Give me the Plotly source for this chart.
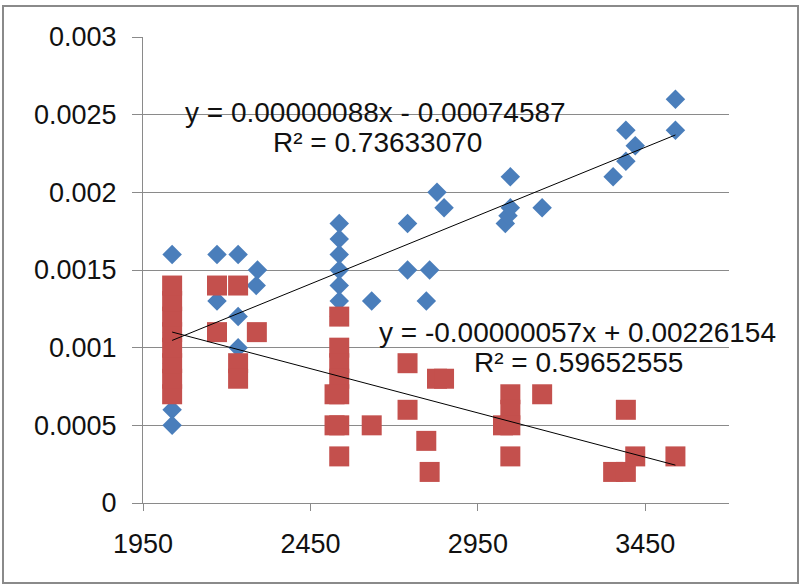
import plotly.graph_objects as go

# ---- data ----
blue_x = [2037, 2037, 2037, 2037, 2037,
          2171, 2171,
          2234, 2234, 2234,
          2292, 2288,
          2536, 2536, 2536, 2536, 2536, 2536, 2536,
          2633,
          2740, 2740,
          2796, 2806,
          2828, 2849,
          3032, 3040, 3047, 3047,
          3142,
          3354, 3392, 3392, 3420,
          3540, 3540]
blue_y = [0.0016, 0.0006, 0.0005, 0.0011, 0.0009,
          0.0016, 0.0013,
          0.0016, 0.0012, 0.0010,
          0.0015, 0.0014,
          0.0018, 0.0017, 0.0016, 0.0015, 0.0014, 0.0013, 0.0012,
          0.0013,
          0.0018, 0.0015,
          0.0013, 0.0015,
          0.0020, 0.0019,
          0.0018, 0.00185, 0.0021, 0.0019,
          0.0019,
          0.0021, 0.0022, 0.0024, 0.0023,
          0.0024, 0.0026]

red_x = [2037, 2037, 2037, 2037, 2037, 2037, 2037, 2037,
         2171, 2171,
         2234, 2234, 2234,
         2290,
         2536, 2536, 2536, 2536, 2536, 2536, 2536, 2522, 2522,
         2633,
         2740, 2740,
         2796, 2806,
         2828, 2849,
         3025, 3047, 3047, 3047, 3047,
         3142,
         3354, 3392, 3392,
         3420,
         3540]
red_y = [0.0007, 0.0008, 0.0009, 0.0010, 0.0011, 0.0012, 0.0013, 0.0014,
         0.0014, 0.0011,
         0.0014, 0.0009, 0.0008,
         0.0011,
         0.0012, 0.0010, 0.0009, 0.0008, 0.0007, 0.0005, 0.0003, 0.0007, 0.0005,
         0.0005,
         0.0009, 0.0006,
         0.0004, 0.0002,
         0.0008, 0.0008,
         0.0005, 0.0007, 0.0006, 0.0005, 0.0003,
         0.0007,
         0.0002, 0.0002, 0.0006,
         0.0003,
         0.0003]

# trendline coefficients as displayed on the chart
blue_slope, blue_intercept = 0.00000088, -0.00074587
red_slope, red_intercept = -0.00000057, 0.00226154
blue_label = ["y = 0.00000088x - 0.00074587", "R² = 0.73633070"]
red_label = ["y = -0.00000057x + 0.00226154", "R² = 0.59652555"]

x_ticks = [1950, 2450, 2950, 3450]
y_ticks = [0, 0.0005, 0.001, 0.0015, 0.002, 0.0025, 0.003]
y_ticktext = ["0", "0.0005", "0.001", "0.0015", "0.002", "0.0025", "0.003"]

FONT = "Liberation Sans, Arial, sans-serif"

fig = go.Figure()
fig.add_trace(go.Scatter(x=blue_x, y=blue_y, mode="markers",
                         marker=dict(symbol="diamond", size=15, color="#4A7EBB",
                                     line=dict(width=0)),
                         showlegend=False))
fig.add_trace(go.Scatter(x=red_x, y=red_y, mode="markers",
                         marker=dict(symbol="square", size=20, color="#C4504D",
                                     line=dict(width=0)),
                         showlegend=False))

bx = [min(blue_x), max(blue_x)]
fig.add_trace(go.Scatter(x=bx, y=[blue_slope * v + blue_intercept for v in bx],
                         mode="lines", line=dict(color="black", width=1),
                         showlegend=False))
rx = [min(red_x), max(red_x)]
fig.add_trace(go.Scatter(x=rx, y=[red_slope * v + red_intercept for v in rx],
                         mode="lines", line=dict(color="black", width=1),
                         showlegend=False))

ann_font = dict(family=FONT, size=28, color="#111111")
fig.add_annotation(x=2643, y=0.002514, text=blue_label[0], showarrow=False, font=ann_font)
fig.add_annotation(x=2649, y=0.00232, text=blue_label[1], showarrow=False, font=ann_font)
fig.add_annotation(x=3247, y=0.00110, text=red_label[0], showarrow=False, font=ann_font)
fig.add_annotation(x=3250, y=0.000907, text=red_label[1], showarrow=False, font=ann_font)

# outer chart border
fig.add_shape(type="rect", xref="paper", yref="paper",
              x0=(3 - 143) / 586, x1=(798 - 143) / 586,
              y0=(503 - 583) / 466, y1=(503 - 6) / 466,
              line=dict(color="#8a8a8a", width=2), fillcolor="rgba(0,0,0,0)", layer="below")

fig.update_layout(
    width=802, height=588,
    margin=dict(l=143, r=73, t=37, b=85),
    paper_bgcolor="white", plot_bgcolor="white",
    font=dict(family=FONT, size=27, color="#111111"),
    xaxis=dict(range=[1950, 3700], tickvals=x_ticks, showgrid=False, zeroline=False,
               showline=True, linecolor="#8a8a8a", linewidth=1,
               ticks="outside", ticklen=7, tickcolor="#8a8a8a",
               tickfont=dict(size=27), ticklabelstandoff=10),
    yaxis=dict(range=[0, 0.003], tickvals=y_ticks, ticktext=y_ticktext,
               showgrid=True, gridcolor="#8a8a8a", gridwidth=1, zeroline=False,
               showline=True, linecolor="#8a8a8a", linewidth=1,
               ticks="outside", ticklen=10, tickcolor="#8a8a8a",
               tickfont=dict(size=27), ticklabelstandoff=10),
)

fig.write_html("out.html")
